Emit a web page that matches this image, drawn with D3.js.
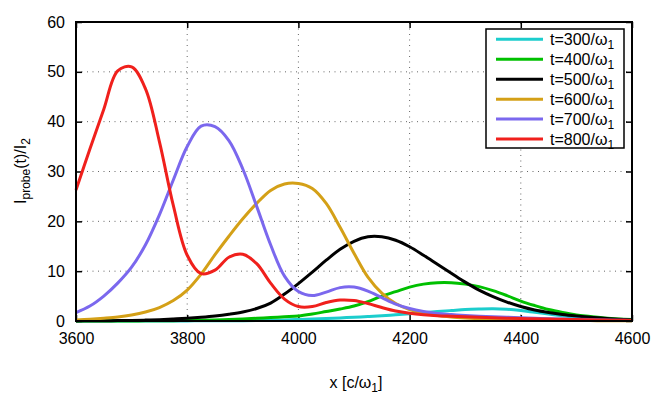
<!DOCTYPE html>
<html>
<head>
<meta charset="utf-8">
<script src="https://cdn.jsdelivr.net/npm/d3@7"></script>
<style>
  body { margin: 0; background: #fff; }
  svg { display: block; font-family: "Liberation Sans", Arial, sans-serif; }
  .grid line { stroke: #666; stroke-dasharray: 1,4.5; stroke-width: 1; }
  .axis text { font-size: 16px; fill: #000; }
  .axis line { stroke: #000; stroke-width: 1.5; }
  .axis path { display: none; }
</style>
</head>
<body>
<div id="chart"></div>
<script>
// data
const xs = [3600, 3625, 3650, 3675, 3700, 3725, 3750, 3775, 3800, 3825,
  3850, 3875, 3900, 3925, 3950, 3975, 4000, 4025, 4050, 4075,
  4100, 4125, 4150, 4175, 4200, 4225, 4250, 4275, 4300, 4325,
  4350, 4375, 4400, 4425, 4450, 4475, 4500, 4525, 4550, 4575, 4600];

const t300 = [0, 0, 0, 0, 0, 0, 0.01, 0.01, 0.02, 0.03,
  0.03, 0.04, 0.05, 0.1, 0.15, 0.22, 0.3, 0.4, 0.5, 0.62,
  0.75, 0.9, 1.05, 1.25, 1.45, 1.68, 1.9, 2.1, 2.3, 2.4,
  2.45, 2.35, 2.1, 1.75, 1.4, 1.05, 0.75, 0.5, 0.3, 0.2, 0.1];

const t400 = [0, 0, 0, 0, 0.02, 0.03, 0.05, 0.07, 0.1, 0.15,
  0.2, 0.3, 0.4, 0.55, 0.7, 0.85, 1.0, 1.4, 1.9, 2.4,
  3.0, 3.9, 5.0, 5.9, 6.8, 7.4, 7.7, 7.7, 7.4, 6.9,
  6.1, 5.1, 4.0, 3.1, 2.3, 1.7, 1.2, 0.9, 0.6, 0.4, 0.3];

const t500 = [0.02, 0.03, 0.05, 0.08, 0.12, 0.18, 0.27, 0.4, 0.55, 0.75,
  1.0, 1.35, 1.8, 2.5, 3.6, 5.4, 7.5, 9.8, 12.2, 14.4,
  16.0, 16.9, 16.9, 16.2, 14.9, 13.2, 11.4, 9.6, 7.8, 6.2,
  4.9, 3.8, 2.9, 2.2, 1.7, 1.3, 1.0, 0.75, 0.55, 0.35, 0.2];

const t600 = [0.2, 0.35, 0.55, 0.8, 1.2, 1.8, 2.7, 4.1, 6.2, 9.4,
  13.3, 17.0, 20.5, 23.6, 26.2, 27.5, 27.6, 26.6, 23.6, 18.8,
  13.6, 8.8, 5.6, 3.5, 2.3, 1.6, 1.1, 0.8, 0.6, 0.45,
  0.35, 0.25, 0.2, 0.17, 0.14, 0.12, 0.1, 0.08, 0.07, 0.06, 0.05];

const t700 = [1.7, 3.0, 5.0, 7.6, 10.8, 15.3, 21.3, 28.3, 35.0, 39.1,
  39.0, 36.2, 30.5, 23.0, 15.3, 9.0, 5.9, 5.1, 5.8, 6.7,
  6.8, 6.0, 4.7, 3.4, 2.5, 1.9, 1.5, 1.3, 1.1, 0.95,
  0.85, 0.75, 0.65, 0.55, 0.45, 0.4, 0.35, 0.3, 0.22, 0.15, 0.1];

const t800 = [26.3, 34.5, 42.5, 50.2, 51.0, 46.6, 36.0, 23.2, 13.2, 9.5,
  10.2, 12.8, 13.4, 11.5, 7.6, 4.4, 2.9, 2.9, 3.7, 4.2,
  4.1, 3.5, 2.7, 2.0, 1.55, 1.25, 1.05, 0.95, 0.85, 0.75,
  0.65, 0.55, 0.5, 0.45, 0.4, 0.35, 0.3, 0.25, 0.2, 0.15, 0.1];

const times = ["300", "400", "500", "600", "700", "800"];
const seriesValues = [t300, t400, t500, t600, t700, t800];
const colors = ["#1ccdcd", "#00c000", "#000000", "#d4a017", "#7b68ee", "#f0201c"];

const xTicks = [3600, 3800, 4000, 4200, 4400, 4600];
const yTicks = [0, 10, 20, 30, 40, 50, 60];

const width = 664, height = 406;
const margin = { top: 22, right: 32, bottom: 85, left: 76 };

const svg = d3.select("#chart").append("svg")
  .attr("width", width)
  .attr("height", height);

const x = d3.scaleLinear().domain([3600, 4600]).range([margin.left, width - margin.right]);
const y = d3.scaleLinear().domain([0, 60]).range([height - margin.bottom, margin.top]);

// dotted grid
const grid = svg.append("g").attr("class", "grid");
grid.selectAll(".gx")
  .data(xTicks.slice(1, -1))
  .join("line")
  .attr("x1", d => x(d)).attr("x2", d => x(d))
  .attr("y1", y(0)).attr("y2", y(60));
grid.selectAll(".gy")
  .data(yTicks.slice(1, -1))
  .join("line")
  .attr("x1", x(3600)).attr("x2", x(4600))
  .attr("y1", d => y(d)).attr("y2", d => y(d));

// axes, ticks pointing inward, mirrored on top and right
svg.append("g").attr("class", "axis")
  .attr("transform", `translate(0,${y(0)})`)
  .call(d3.axisBottom(x).tickValues(xTicks).tickFormat(d3.format("d"))
    .tickSize(-6).tickSizeOuter(0).tickPadding(12));
svg.append("g").attr("class", "axis")
  .attr("transform", `translate(0,${y(60)})`)
  .call(d3.axisTop(x).tickValues(xTicks).tickSize(-6).tickSizeOuter(0).tickFormat(""));
svg.append("g").attr("class", "axis")
  .attr("transform", `translate(${x(3600)},0)`)
  .call(d3.axisLeft(y).tickValues(yTicks).tickSize(-6).tickSizeOuter(0).tickPadding(11));
svg.append("g").attr("class", "axis")
  .attr("transform", `translate(${x(4600)},0)`)
  .call(d3.axisRight(y).tickValues(yTicks).tickSize(-6).tickSizeOuter(0).tickFormat(""));

// curves
const line = d3.line()
  .x((d, i) => x(xs[i]))
  .y(d => y(d))
  .curve(d3.curveCatmullRom.alpha(0.5));

svg.append("g")
  .selectAll("path")
  .data(seriesValues)
  .join("path")
  .attr("d", d => line(d))
  .attr("fill", "none")
  .attr("stroke", (d, i) => colors[i])
  .attr("stroke-width", 3)
  .attr("stroke-linejoin", "round");

// frame
svg.append("rect")
  .attr("x", x(3600)).attr("y", y(60))
  .attr("width", x(4600) - x(3600))
  .attr("height", y(0) - y(60))
  .attr("fill", "none")
  .attr("stroke", "#000")
  .attr("stroke-width", 2);

// legend
const legend = svg.append("g");
legend.append("rect")
  .attr("x", 486).attr("y", 29)
  .attr("width", 138).attr("height", 119)
  .attr("fill", "#fff")
  .attr("stroke", "#000")
  .attr("stroke-width", 1.5);

const rows = legend.selectAll(".row")
  .data(times)
  .join("g")
  .attr("transform", (d, i) => `translate(0,${39.3 + i * 19.95})`);
rows.append("line")
  .attr("x1", 496).attr("x2", 543)
  .attr("stroke", (d, i) => colors[i])
  .attr("stroke-width", 3);
const lt = rows.append("text")
  .attr("x", 550).attr("y", 5.8)
  .style("font-size", "16px");
lt.append("tspan").text(d => `t=${d}/ω`);
lt.append("tspan").attr("dy", 4).style("font-size", "12px").text("1");

// axis titles
const xl = svg.append("text")
  .attr("x", 356).attr("y", 388)
  .attr("text-anchor", "middle")
  .style("font-size", "16px");
xl.append("tspan").text("x [c/ω");
xl.append("tspan").attr("dy", 4).style("font-size", "12px").text("1");
xl.append("tspan").attr("dy", -4).text("]");

const yl = svg.append("text")
  .attr("transform", "translate(26,171) rotate(-90)")
  .attr("text-anchor", "middle")
  .style("font-size", "16px");
yl.append("tspan").text("I");
yl.append("tspan").attr("dy", 4).style("font-size", "12px").text("probe");
yl.append("tspan").attr("dy", -4).text("(t)/I");
yl.append("tspan").attr("dy", 4).style("font-size", "12px").text("2");
</script>
</body>
</html>
